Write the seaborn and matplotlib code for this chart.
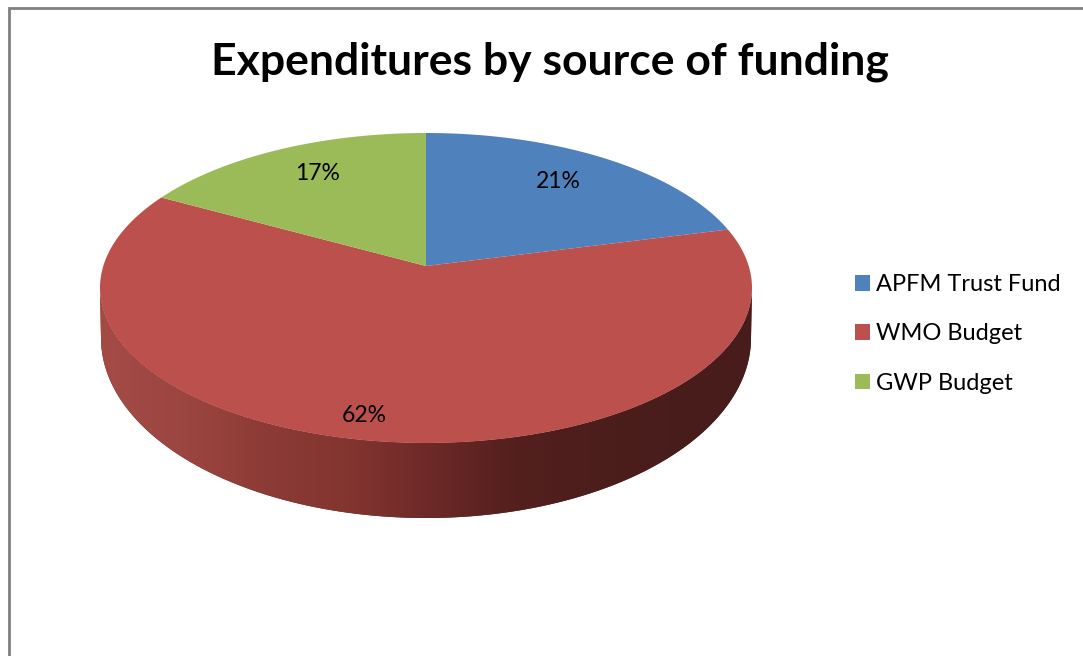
import matplotlib
matplotlib.use('Agg')
import matplotlib.pyplot as plt
from matplotlib.colors import ListedColormap
from matplotlib.patches import Patch, Polygon
import numpy as np
import seaborn as sns

# values
sources = ['APFM Trust Fund', 'WMO Budget', 'GWP Budget']
shares = [21, 62, 17]
share_labels = ['21%', '62%', '17%']
slice_colors = ['#4F81BD', '#BC504D', '#9BBB59']

sns.set_theme(style='white')
plt.rcParams['font.family'] = ['Lato', 'DejaVu Sans']

W, H = 1083, 656
fig = plt.figure(figsize=(W / 100, H / 100), dpi=100)
ax = fig.add_axes([0, 0, 1, 1])
ax.set_xlim(0, W)
ax.set_ylim(H, 0)
ax.axis('off')

# geometry of the fake 3d disc, in pixels
cx, cy, rx, ry = 426, 288, 326, 155
bottom_cy, bottom_rx, bottom_ry = 338, 325, 180
k = 22 / ry  # perspective shift of the pie centre


def project(theta):
    # unit circle -> tilted ellipse, centre moved up by k
    x, y = np.cos(theta), np.sin(theta)
    d = 1 + k * y
    return cx + rx * x * np.sqrt(1 - k ** 2) / d, cy - ry * (y + k) / d


# side wall, shaded left to right
t = np.linspace(np.pi, 2 * np.pi, 300)
top_x = cx + rx * np.cos(t)
top_y = cy - ry * np.sin(t)
bot_x = cx + bottom_rx * np.cos(t)
bot_y = bottom_cy - bottom_ry * np.sin(t)
wall_xy = np.column_stack([np.r_[top_x, bot_x[::-1]], np.r_[top_y, bot_y[::-1]]])
wall = Polygon(wall_xy, closed=True, fc='#5a2320', ec='none')
ax.add_patch(wall)
wall_cmap = ListedColormap(sns.blend_palette(
    ['#A44B46', '#9C4641', '#8D3B36', '#833530', '#6E2A28', '#55201E', '#4C1E1C', '#491D1B', '#471C1A'], 256))
img = ax.imshow(np.linspace(0, 1, 256)[None, :], cmap=wall_cmap, extent=(100, 752, 530, 280),
                aspect='auto', interpolation='bilinear', zorder=1)
img.set_clip_path(wall)
ax.set_xlim(0, W)
ax.set_ylim(H, 0)

# top face
edges = 90 - np.r_[0, np.cumsum(shares)] * 3.6
for i, color in enumerate(slice_colors):
    th = np.radians(np.linspace(edges[i], edges[i + 1], 200))
    px, py = project(th)
    ax.fill(np.r_[cx, px], np.r_[cy - ry * k, py], color=color, lw=0, zorder=2)

label_x = [558, 364, 318]
label_y = [181, 415, 174]
for lab, x, y in zip(share_labels, label_x, label_y):
    ax.text(x, y, lab, fontsize=16.5, color='black', ha='center', va='center', zorder=3)

ax.text(549.5, 62, 'Expenditures by source of funding', fontsize=32, fontweight='bold',
        color='black', ha='center', va='center')

handles = [Patch(fc=c, ec='none') for c in slice_colors]
ax.legend(handles, sources, loc='center left', bbox_to_anchor=(855 / W, 1 - 334 / H), frameon=False,
          fontsize=17, handlelength=0.64, handleheight=0.64, handletextpad=0.25, labelspacing=1.2,
          labelcolor='black', borderpad=0, borderaxespad=0)

# chart frame, only left and top are visible in the crop
ax.plot([9, 9, W], [H, 8, 8], color='#808080', lw=2, solid_joinstyle='miter')

fig.savefig('out.png', dpi=100, facecolor='white')
